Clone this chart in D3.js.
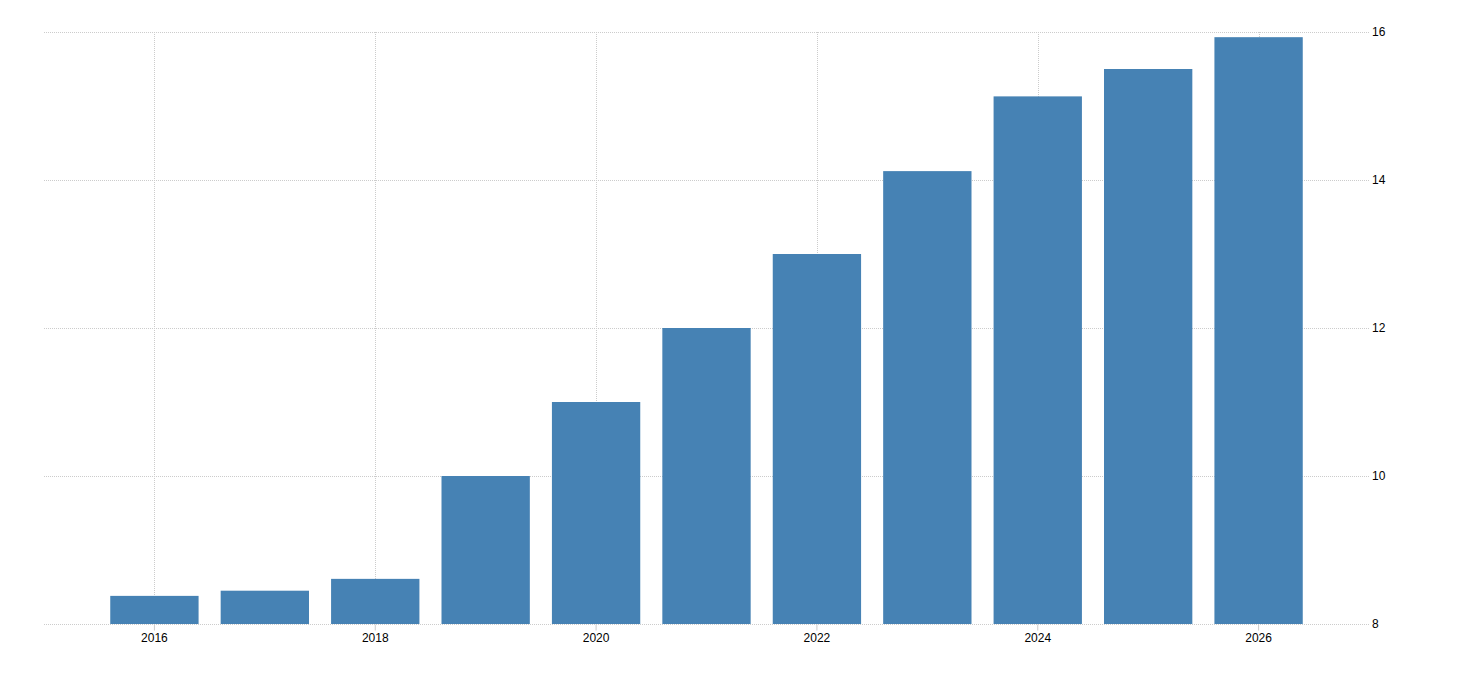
<!DOCTYPE html>
<html>
<head>
<meta charset="utf-8">
<script src="https://cdn.jsdelivr.net/npm/d3@7"></script>
<style>
  body { margin: 0; background: #fff; }
  svg text { font-family: Arial, "Liberation Sans", sans-serif; font-size: 12px; fill: #000; }
</style>
</head>
<body>
<svg id="chart" width="1460" height="680"></svg>
<script>
// values
var years = [2016, 2017, 2018, 2019, 2020, 2021, 2022, 2023, 2024, 2025, 2026];
var values = [8.38, 8.45, 8.61, 10.0, 11.0, 12.0, 13.0, 14.12, 15.13, 15.5, 15.93];
var yTicks = [8, 10, 12, 14, 16];
var xTickYears = [2016, 2018, 2020, 2022, 2024, 2026];

var svg = d3.select('#chart');
var plotLeft = 44, plotRight = 1369, plotTop = 32, plotBottom = 624;

var x = d3.scaleBand()
    .domain(years)
    .range([plotLeft, plotRight])
    .paddingInner(0.2)
    .paddingOuter(0.6);

var y = d3.scaleLinear()
    .domain([8, 16])
    .range([plotBottom, plotTop]);

// horizontal grid
svg.append('g')
    .selectAll('line')
    .data(yTicks)
    .enter().append('line')
    .attr('x1', plotLeft)
    .attr('x2', plotRight)
    .attr('y1', function(d) { return y(d) + 0.5; })
    .attr('y2', function(d) { return y(d) + 0.5; })
    .attr('stroke', '#ccc')
    .attr('stroke-dasharray', '1,1')

// vertical grid
svg.append('g')
    .selectAll('line')
    .data(xTickYears)
    .enter().append('line')
    .attr('x1', function(d) { return Math.round(x(d) + x.bandwidth() / 2) + 0.5; })
    .attr('x2', function(d) { return Math.round(x(d) + x.bandwidth() / 2) + 0.5; })
    .attr('y1', plotTop)
    .attr('y2', plotBottom)
    .attr('stroke', '#ccc')
    .attr('stroke-dasharray', '1,1')

// bars
svg.append('g')
    .selectAll('rect')
    .data(years)
    .enter().append('rect')
    .attr('x', function(d) { return x(d); })
    .attr('width', x.bandwidth())
    .attr('y', function(d, i) { return y(values[i]); })
    .attr('height', function(d, i) { return y(8) - y(values[i]); })
    .attr('fill', '#4682b4')

// x axis
var xAxis = d3.axisBottom(x)
    .tickValues(xTickYears)
    .tickSize(6)
    .tickPadding(3)
    .tickFormat(d3.format('d'));

var gx = svg.append('g')
    .attr('transform', 'translate(0,' + (plotBottom + 0.5) + ')')
    .call(xAxis);
gx.select('.domain').remove();
gx.selectAll('line').attr('stroke', '#ccc');
gx.selectAll('text').attr('font-size', null).attr('font-family', null);

// y axis on the right
var yAxis = d3.axisRight(y)
    .tickValues(yTicks)
    .tickSize(0)
    .tickPadding(3);

var gy = svg.append('g')
    .attr('transform', 'translate(' + plotRight + ',0)')
    .call(yAxis);
gy.select('.domain').remove();
gy.selectAll('text').attr('font-size', null).attr('font-family', null);
</script>
</body>
</html>
